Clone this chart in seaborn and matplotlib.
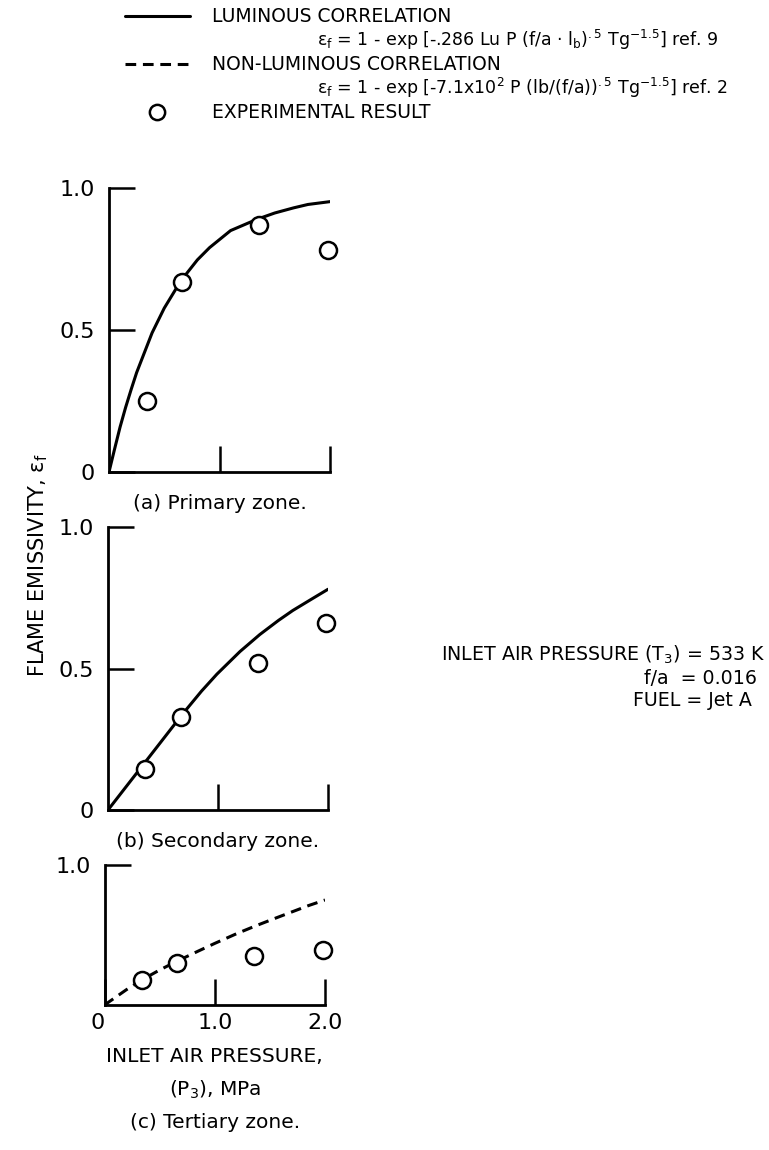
import numpy as np
import pandas as pd
import seaborn as sns
import matplotlib.pyplot as plt
from matplotlib.lines import Line2D

# Experimental points (pressure in MPa, emissivity)
pressure_exp = [0.34, 0.66, 1.36, 1.98]
primary_exp = [0.25, 0.67, 0.87, 0.78]
secondary_exp = [0.145, 0.33, 0.52, 0.66]
tertiary_exp = [0.18, 0.30, 0.35, 0.39]

# Correlation curves
primary_p = [0, 0.05, 0.1, 0.15, 0.2, 0.25, 0.3, 0.39, 0.5, 0.65, 0.8, 0.91,
             1.1, 1.34, 1.5, 1.67, 1.8, 2.0]
primary_lum = [0, 0.08, 0.158, 0.227, 0.29, 0.35, 0.40, 0.49, 0.577, 0.673,
               0.747, 0.79, 0.85, 0.89, 0.912, 0.93, 0.942, 0.952]
secondary_p = [0, 0.2, 0.36, 0.5, 0.68, 0.85, 0.99, 1.2, 1.38, 1.55, 1.68,
               1.85, 2.0]
secondary_lum = [0, 0.10, 0.18, 0.25, 0.34, 0.42, 0.48, 0.56, 0.62, 0.67,
                 0.705, 0.745, 0.78]
tertiary_p = [0, 0.2, 0.34, 0.5, 0.65, 0.85, 1.0, 1.2, 1.37, 1.55, 1.7, 1.85,
              2.0]
tertiary_nonlum = [0, 0.11, 0.18, 0.25, 0.31, 0.385, 0.44, 0.51, 0.565, 0.62,
                   0.665, 0.71, 0.75]

sns.set_style("ticks")
plt.rcParams['font.family'] = ['DejaVu Sans']
plt.rcParams['mathtext.fontset'] = 'dejavusans'
for k in ['text.color', 'axes.labelcolor', 'xtick.color', 'ytick.color',
          'axes.edgecolor']:
    plt.rcParams[k] = 'black'

W, H = 769, 1150
fig = plt.figure(figsize=(W / 100, H / 100), dpi=100)


def box(l, r, top, bottom):
    return [l / W, 1 - bottom / H, (r - l) / W, (bottom - top) / H]


def fx(x):
    return x / W


def fy(y):
    return 1 - y / H


ax_a = fig.add_axes(box(109, 330, 188, 472))
ax_b = fig.add_axes(box(108, 328, 527, 810))
ax_c = fig.add_axes(box(104.5, 325, 865, 1005))

panels = [
    (ax_a, primary_p, primary_lum, primary_exp, '-'),
    (ax_b, secondary_p, secondary_lum, secondary_exp, '-'),
    (ax_c, tertiary_p, tertiary_nonlum, tertiary_exp, '--'),
]

dash = (0, (3.5, 2.2))
for ax, cp, cv, ev, ls in panels:
    sns.lineplot(x=cp, y=cv, ax=ax, color='black', lw=2.2, estimator=None,
                 sort=False, linestyle=dash if ls == '--' else '-')
    sns.scatterplot(x=pressure_exp, y=ev, ax=ax, marker='o', s=150,
                    facecolor='white', edgecolor='black', linewidth=1.8,
                    zorder=5, clip_on=False)
    ax.set_xlim(0, 2.0)
    ax.set_ylim(0, 1.0)
    sns.despine(ax=ax)
    for s in ['left', 'bottom']:
        ax.spines[s].set_linewidth(2.0)
    ax.tick_params(direction='in', length=19, width=1.8, labelsize=16, pad=10)

cap = 14.5

# panel (a)
ax_a.set_xticks([1.0, 2.0])
ax_a.set_xticklabels(['', ''])
ax_a.set_yticks([0, 0.5, 1.0])
ax_a.set_yticklabels(['0', '0.5', '1.0'])
ax_a.set_xlabel('(a) Primary zone.', fontsize=cap, labelpad=6)

# panel (b)
ax_b.set_xticks([1.0, 2.0])
ax_b.set_xticklabels(['', ''])
ax_b.set_yticks([0, 0.5, 1.0])
ax_b.set_yticklabels(['0', '0.5', '1.0'])
ax_b.set_xlabel('(b) Secondary zone.', fontsize=cap, labelpad=6)

# panel (c)
ax_c.set_xticks([0, 1.0, 2.0])
ax_c.set_xticklabels(['0', '1.0', '2.0'])
ax_c.tick_params(axis='x', pad=6)
ax_c.get_xticklabels()[0].set_ha('right')
ax_c.set_yticks([1.0])
ax_c.set_yticklabels(['1.0'])
ax_c.set_xlabel('INLET AIR PRESSURE,\n(P$_3$), MPa\n(c) Tertiary zone.',
                fontsize=cap, labelpad=10, linespacing=1.75)

# shared y label
fig.text(fx(38), fy(565), r'FLAME EMISSIVITY, ε$_\mathrm{f}$', rotation=90,
         ha='center', va='center', fontsize=15)

# legend block
lg = 13.5
fig.add_artist(Line2D([fx(125), fx(190)], [fy(16), fy(16)], color='black',
                      lw=2.2, transform=fig.transFigure))
fig.add_artist(Line2D([fx(125), fx(190)], [fy(64), fy(64)], color='black',
                      lw=2.2, linestyle=dash, transform=fig.transFigure))
fig.add_artist(Line2D([fx(157)], [fy(112)], marker='o', ms=11, mfc='white',
                      mec='black', mew=1.8, transform=fig.transFigure))
fig.text(fx(212), fy(16), 'LUMINOUS CORRELATION', va='center', fontsize=lg)
fig.text(fx(317), fy(40),
         r'ε$_\mathrm{f}$ = 1 - exp [-.286 Lu P (f/a · l$_\mathrm{b}$)$^{.5}$ '
         r'Tg$^{-1.5}$] ref. 9',
         va='center', fontsize=12.5)
fig.text(fx(212), fy(64), 'NON-LUMINOUS CORRELATION', va='center', fontsize=lg)
fig.text(fx(317), fy(88),
         r'ε$_\mathrm{f}$ = 1 - exp [-7.1x10$^2$ P (lb/(f/a))$^{.5}$ '
         r'Tg$^{-1.5}$] ref. 2',
         va='center', fontsize=12.5)
fig.text(fx(212), fy(112), 'EXPERIMENTAL RESULT', va='center', fontsize=lg)

# test conditions
cond = 13.7
fig.text(fx(765), fy(655), 'INLET AIR PRESSURE (T$_3$) = 533 K', ha='right',
         va='center', fontsize=cond)
fig.text(fx(757), fy(678), 'f/a  = 0.016', ha='right', va='center', fontsize=cond)
fig.text(fx(752), fy(701), 'FUEL = Jet A', ha='right', va='center', fontsize=cond)

fig.savefig('out.png', dpi=100)
